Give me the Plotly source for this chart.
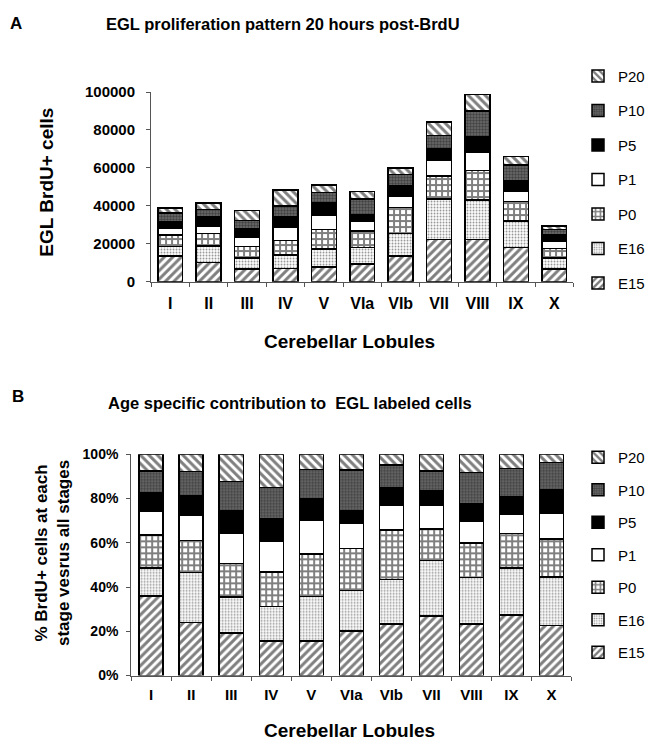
import plotly.graph_objects as go

# ---------------- data ----------------
lobules = ["I", "II", "III", "IV", "V", "VIa", "VIb", "VII", "VIII", "IX", "X"]
stages = ["E15", "E16", "P0", "P1", "P5", "P10", "P20"]

# Panel A: EGL BrdU+ cells (counts per stage, stacked)
cells_E15 = [13600, 10200, 6700, 6900, 7800, 9200, 13600, 22300, 22300, 18100, 6700]
cells_E16 = [4900, 8600, 5700, 7200, 9400, 8800, 11800, 21200, 20700, 13900, 5700]
cells_P0 = [6000, 6600, 6100, 7500, 10400, 8800, 13800, 12100, 15500, 10300, 5200]
cells_P1 = [3800, 4000, 4800, 7300, 7600, 5000, 6000, 8300, 9700, 5500, 3500]
cells_P5 = [3100, 4600, 4700, 5100, 6600, 3600, 5200, 6400, 8100, 5200, 3400]
cells_P10 = [4900, 4000, 4300, 6000, 5200, 8100, 6100, 6900, 13800, 8600, 3000]
cells_P20 = [2600, 3400, 5100, 8300, 3900, 4000, 3400, 6900, 8700, 4300, 1900]

# Panel B: % of BrdU+ cells at each stage versus all stages
pct_E15 = [36.0, 24.0, 19.3, 15.5, 15.5, 20.1, 23.3, 26.9, 23.3, 27.4, 22.5]
pct_E16 = [12.7, 22.5, 16.2, 15.6, 20.2, 18.3, 20.2, 25.0, 21.0, 21.3, 22.0]
pct_P0 = [14.9, 14.6, 15.2, 15.6, 19.2, 19.0, 22.3, 14.3, 15.6, 15.6, 17.3]
pct_P1 = [10.5, 11.3, 13.6, 14.0, 15.3, 11.3, 11.0, 11.0, 10.0, 8.8, 11.6]
pct_P5 = [8.5, 8.8, 10.3, 10.1, 9.5, 5.9, 8.3, 6.2, 7.9, 7.6, 10.7]
pct_P10 = [9.8, 11.0, 13.2, 14.2, 13.5, 18.3, 10.0, 9.0, 14.1, 12.9, 12.2]
pct_P20 = [7.6, 7.8, 12.2, 15.0, 6.8, 7.1, 4.9, 7.6, 8.1, 6.4, 3.7]

cells = [cells_E15, cells_E16, cells_P0, cells_P1, cells_P5, cells_P10, cells_P20]
pcts = [pct_E15, pct_E16, pct_P0, pct_P1, pct_P5, pct_P10, pct_P20]

# ---------------- styles ----------------
W, H = 650, 748
FONT = "Liberation Sans, Arial, Helvetica, sans-serif"


def fx(p):
    return p / W


def fy(p):
    return 1 - p / H


styles = {
    "E15": dict(color="white", pattern=dict(shape="/", fgcolor="black", bgcolor="white", size=6, solidity=0.5)),
    "E16": dict(color="white", pattern=dict(shape=".", fgcolor="#222222", bgcolor="white", size=3, solidity=0.3)),
    "P0": dict(color="white", pattern=dict(shape="+", fgcolor="black", bgcolor="white", size=6, solidity=0.55)),
    "P1": dict(color="white"),
    "P5": dict(color="black"),
    "P10": dict(color="#666666", pattern=dict(shape=".", fgcolor="#111111", bgcolor="#6e6e6e", size=3, solidity=0.5)),
    "P20": dict(color="white", pattern=dict(shape="\\", fgcolor="black", bgcolor="white", size=6, solidity=0.5)),
}

fig = go.Figure()

n = len(stages)
for i, (stage, vals) in enumerate(zip(stages, cells)):
    st = styles[stage]
    marker = dict(color=st["color"], line=dict(color="black", width=1.5))
    if "pattern" in st:
        marker["pattern"] = st["pattern"]
    fig.add_trace(go.Bar(x=lobules, y=vals, name=stage, xaxis="x", yaxis="y",
                         width=0.65, marker=marker, legend="legend",
                         legendgroup="a" + stage, legendrank=n - i))

for i, (stage, vals) in enumerate(zip(stages, pcts)):
    st = styles[stage]
    marker = dict(color=st["color"], line=dict(color="black", width=1.5))
    if "pattern" in st:
        marker["pattern"] = st["pattern"]
    fig.add_trace(go.Bar(x=lobules, y=vals, name=stage, xaxis="x2", yaxis="y2",
                         width=0.6, marker=marker, legend="legend2",
                         legendgroup="b" + stage, legendrank=n - i))

tickfont = dict(family=FONT, size=15, color="black", weight="bold")
axis_common = dict(showline=True, linecolor="#555555", linewidth=1, ticks="outside",
                   ticklen=4, tickcolor="#555555", showgrid=False, zeroline=False)

fig.update_layout(
    width=W, height=H,
    margin=dict(l=0, r=0, t=0, b=0),
    paper_bgcolor="white", plot_bgcolor="white",
    barmode="stack",
    font=dict(family=FONT, color="black"),
    xaxis=dict(domain=[fx(152), fx(577)], anchor="y", type="category",
               range=[-0.5, 10.5], tickson="boundaries", tickfont=dict(tickfont, size=16),
               ticklabelstandoff=7, **axis_common),
    yaxis=dict(domain=[fy(279), fy(85)], anchor="x", range=[0, 100000],
               dtick=20000, tickformat="d", tickfont=tickfont,
               ticklabelstandoff=8, **axis_common),
    xaxis2=dict(domain=[fx(132), fx(575)], anchor="y2", type="category",
                range=[-0.5, 10.5], tickson="boundaries",
                tickfont=dict(tickfont, size=15), ticklabelstandoff=5, **axis_common),
    yaxis2=dict(domain=[fy(682), fy(455.7)], anchor="x2", range=[0, 100],
                dtick=20, ticksuffix="%", tickfont=dict(tickfont, size=14),
                ticklabelstandoff=5, **axis_common),
    legend=dict(x=fx(582), y=fy(52), xanchor="left", yanchor="top",
                traceorder="grouped", tracegroupgap=12,
                font=dict(family=FONT, size=15, color="black"),
                bgcolor="rgba(0,0,0,0)"),
    legend2=dict(x=fx(582), y=fy(442), xanchor="left", yanchor="top",
                 traceorder="grouped", tracegroupgap=10,
                 font=dict(family=FONT, size=15, color="black"),
                 bgcolor="rgba(0,0,0,0)"),
)

bold = dict(family=FONT, color="black", weight="bold")
annos = [
    dict(text="A", x=fx(16), y=fy(15), font=dict(bold, size=17)),
    dict(text="EGL proliferation pattern 20 hours post-BrdU", x=fx(285), y=fy(15),
         font=dict(bold, size=16.5)),
    dict(text="EGL BrdU+ cells", x=fx(47), y=fy(177), textangle=-90,
         font=dict(bold, size=19)),
    dict(text="Cerebellar Lobules", x=fx(352), y=fy(340), font=dict(bold, size=19)),
    dict(text="B", x=fx(18), y=fy(397), font=dict(bold, size=17)),
    dict(text="Age specific contribution to  EGL labeled cells", x=fx(292), y=fy(403),
         font=dict(bold, size=16.5)),
    dict(text="% BrdU+ cells at each<br>stage vesrus all stages", x=fx(53), y=fy(557),
         textangle=-90, font=dict(bold, size=17)),
    dict(text="Cerebellar Lobules", x=fx(352), y=fy(738), font=dict(bold, size=19)),
]
for a in annos:
    a.update(xref="paper", yref="paper", showarrow=False, xanchor="center", yanchor="middle")
fig.update_layout(annotations=annos)

fig.write_html("out.html")
